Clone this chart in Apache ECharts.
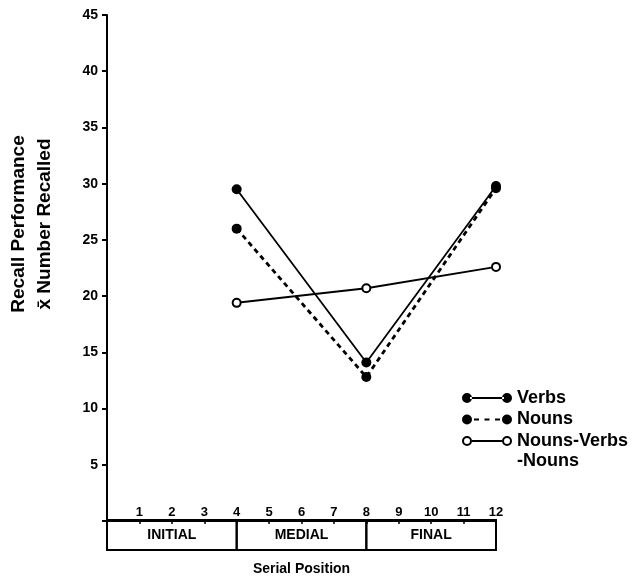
<!DOCTYPE html>
<html>
<head>
<meta charset="utf-8">
<style>
  html, body { margin: 0; padding: 0; background: #fff; }
  #chart { width: 642px; height: 588px; }
</style>
<script src="https://cdn.jsdelivr.net/npm/echarts@6/dist/echarts.min.js"></script>
</head>
<body>
<div id="chart"></div>
<script>
// serial positions where recall was measured
const positions = [4, 8, 12]
// mean number recalled
const verbs = [29.5, 14.1, 29.8]
const nouns = [26.0, 12.8, 29.6]
const nounsVerbsNouns = [19.4, 20.7, 22.6]

// segments of the list shown in the box under the axis
const segLabels = ['INITIAL', 'MEDIAL', 'FINAL']
const segStart = [0, 4, 8]
const segEnd = [4, 8, 12]

const yTicks = [5, 10, 15, 20, 25, 30, 35, 40, 45]
const xTicks = [1, 2, 3, 4, 5, 6, 7, 8, 9, 10, 11, 12]

const FONT = '"Liberation Sans", Arial, sans-serif'

// legend icons: 50x10 boxes, line with a dot at each end
const dot = (cx) => `M${cx - 5},5 a5,5 0 1,0 10,0 a5,5 0 1,0 -10,0 Z`
const ring = (cx) => dot(cx) + ` M${cx - 3},5 a3,3 0 1,1 6,0 a3,3 0 1,1 -6,0 Z`
const iconSolid = 'path://' + dot(5) + ' M8,4 L42,4 L42,6 L8,6 Z ' + dot(45)
const iconDashed = 'path://' + dot(5) + ' M12,4 h5 v2 h-5 Z M22.5,4 h5 v2 h-5 Z M33,4 h5 v2 h-5 Z ' + dot(45)
const iconOpen = 'path://' + ring(5) + ' M10,4 L40,4 L40,6 L10,6 Z ' + ring(45)

const chart = echarts.init(document.getElementById('chart'))

const option = {
  animation: false,
  textStyle: { fontFamily: FONT },
  grid: [
    { left: 107, right: 146, top: 15, bottom: 67 },
    { left: 107, right: 146, top: 520, height: 30 },
  ],
  xAxis: [
    {
      type: 'value',
      min: 0,
      max: 12,
      interval: 1,
      name: 'Serial Position',
      nameLocation: 'middle',
      nameGap: 41,
      nameTextStyle: { fontFamily: FONT, fontWeight: 'bold', fontSize: 14, color: '#000' },
      axisLine: { lineStyle: { color: '#000', width: 2 } },
      axisTick: { length: 3, lineStyle: { color: '#000', width: 1.5 } },
      axisLabel: {
        inside: true,
        margin: 2,
        fontFamily: FONT,
        fontWeight: 'bold',
        fontSize: 13,
        color: '#000',
        formatter: (v) => (xTicks.includes(v) ? String(v) : ''),
      },
      splitLine: { show: false },
    },
    { gridIndex: 1, type: 'value', min: 0, max: 12, show: false },
  ],
  yAxis: [
    {
      type: 'value',
      min: 0,
      max: 45,
      interval: 5,
      axisLine: { show: true, lineStyle: { color: '#000', width: 2 } },
      axisTick: { show: true, length: 5, lineStyle: { color: '#000', width: 2 } },
      axisLabel: {
        margin: 9,
        fontFamily: FONT,
        fontWeight: 'bold',
        fontSize: 14,
        color: '#000',
        formatter: (v) => (yTicks.includes(v) ? String(v) : ''),
      },
      splitLine: { show: false },
    },
    { gridIndex: 1, type: 'value', min: 0, max: 1, show: false },
  ],
  legend: {
    orient: 'vertical',
    left: 457,
    top: 383,
    itemWidth: 50,
    itemHeight: 10,
    itemGap: 1.5,
    selectedMode: false,
    itemStyle: { color: '#000', borderWidth: 0 },
    textStyle: { fontFamily: FONT, fontWeight: 'bold', fontSize: 18, color: '#000', lineHeight: 20 },
    data: [
      { name: 'Verbs', icon: iconSolid },
      { name: 'Nouns', icon: iconDashed },
      { name: 'Nouns-Verbs', icon: iconOpen },
    ],
  },
  graphic: [
    {
      type: 'text',
      rotation: Math.PI / 2,
      x: 32,
      y: 224,
      style: {
        text: 'Recall Performance\nx\u0304 Number Recalled',
        fontFamily: FONT,
        fontWeight: 'bold',
        fontSize: 19,
        lineHeight: 26,
        fill: '#000',
        align: 'center',
        verticalAlign: 'middle',
      },
    },
    {
      // second line of the third legend entry
      type: 'text',
      x: 517,
      y: 461,
      style: {
        text: '-Nouns',
        fontFamily: FONT,
        fontWeight: 'bold',
        fontSize: 18,
        fill: '#000',
        verticalAlign: 'middle',
      },
    },
  ],
  series: [
    {
      name: 'Nouns',
      type: 'line',
      data: positions.map((p, i) => [p, nouns[i]]),
      symbol: 'circle',
      symbolSize: 10,
      itemStyle: { color: '#000' },
      lineStyle: { color: '#000', width: 2.8, type: [5, 4] },
      z: 2,
    },
    {
      name: 'Verbs',
      type: 'line',
      data: positions.map((p, i) => [p, verbs[i]]),
      symbol: 'circle',
      symbolSize: 10,
      itemStyle: { color: '#000' },
      lineStyle: { color: '#000', width: 1.8 },
      z: 3,
    },
    {
      name: 'Nouns-Verbs',
      type: 'line',
      data: positions.map((p, i) => [p, nounsVerbsNouns[i]]),
      symbol: 'circle',
      symbolSize: 8,
      itemStyle: { color: '#fff', borderColor: '#000', borderWidth: 2 },
      lineStyle: { color: '#000', width: 2 },
      z: 4,
    },
    {
      name: 'segments',
      type: 'custom',
      xAxisIndex: 1,
      yAxisIndex: 1,
      clip: false,
      silent: true,
      data: segLabels.map((s, i) => [segStart[i], segEnd[i], s]),
      renderItem: (params, api) => {
        const a = api.coord([api.value(0), 1])
        const b = api.coord([api.value(1), 0])
        return {
          type: 'group',
          children: [
            {
              type: 'rect',
              shape: { x: a[0], y: a[1], width: b[0] - a[0], height: b[1] - a[1] },
              style: { fill: 'none', stroke: '#000', lineWidth: 2 },
            },
            {
              type: 'text',
              x: (a[0] + b[0]) / 2,
              y: (a[1] + b[1]) / 2,
              style: {
                text: api.value(2),
                fontFamily: FONT,
                fontWeight: 'bold',
                fontSize: 14,
                fill: '#000',
                align: 'center',
                verticalAlign: 'middle',
              },
            },
          ],
        }
      },
    },
  ],
}

chart.setOption(option)
</script>
</body>
</html>
